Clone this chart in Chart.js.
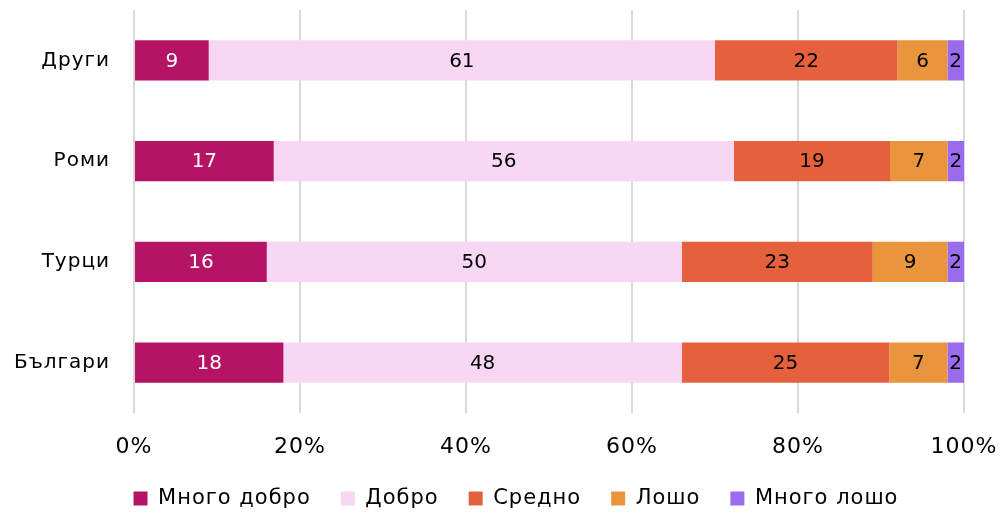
<!DOCTYPE html>
<html>
<head>
<meta charset="utf-8">
<script src="https://cdn.jsdelivr.net/npm/chart.js@4"></script>
<style>
  html, body { margin: 0; padding: 0; background: #fff; overflow: hidden; }
  #wrap { width: 1005px; height: 514px; }
</style>
</head>
<body>
<div id="wrap"><canvas id="chart"></canvas></div>
<script>
const categories = ["Други", "Роми", "Турци", "Българи"];
const seriesNames = ["Много добро", "Добро", "Средно", "Лошо", "Много лошо"];
const veryGood = [9, 17, 16, 18];
const good = [61, 56, 50, 48];
const average = [22, 19, 23, 25];
const bad = [6, 7, 9, 7];
const veryBad = [2, 2, 2, 2];
const tickValues = [0, 20, 40, 60, 80, 100];

const colors = ['#b41463', '#f7d7f4', '#e5603d', '#e9953d', '#9b6bee'];
const labelColors = ['#ffffff', '#000000', '#000000', '#000000', '#000000'];
const FONT = "'DejaVu Sans', sans-serif";

const raw = [veryGood, good, average, bad, veryBad];
// 100% stacked: normalise each row by its total
const totals = categories.map((c, i) => raw.reduce((s, arr) => s + arr[i], 0));
const datasets = raw.map((arr, k) => ({
    label: seriesNames[k],
    data: arr.map((v, i) => v / totals[i] * 100),
    rawValues: arr,
    backgroundColor: colors[k],
    barPercentage: 0.4,
    categoryPercentage: 1
}));

// wider lettering, closer to the original geometric font
const spacing = {
    id: 'spacing',
    beforeUpdate(chart) { chart.ctx.letterSpacing = '1px'; },
    beforeDraw(chart) { chart.ctx.letterSpacing = '1px'; }
};

// legend sits a bit right of the canvas centre in the original
const legendShift = {
    id: 'legendShift',
    afterLayout(chart) {
        chart.legend.left += 34;
        chart.legend.right += 34;
    }
};

// draw raw values in the middle of each segment
const valueLabels = {
    id: 'valueLabels',
    afterDatasetsDraw(chart) {
        const ctx = chart.ctx;
        ctx.save();
        ctx.letterSpacing = '0px';
        ctx.font = "20px " + FONT;
        ctx.textAlign = 'center';
        ctx.textBaseline = 'middle';
        chart.data.datasets.forEach((ds, k) => {
            const meta = chart.getDatasetMeta(k);
            meta.data.forEach((bar, i) => {
                ctx.fillStyle = labelColors[k];
                ctx.fillText(String(ds.rawValues[i]), (bar.x + bar.base) / 2, bar.y + 1);
            });
        });
        ctx.restore();
    }
};

new Chart(document.getElementById('chart'), {
    type: 'bar',
    data: { labels: categories, datasets: datasets },
    plugins: [spacing, legendShift, valueLabels],
    options: {
        indexAxis: 'y',
        responsive: true,
        maintainAspectRatio: false,
        animation: false,
        layout: { padding: { top: 10, right: 41, left: 0, bottom: -5 } },
        scales: {
            x: {
                stacked: true,
                min: 0,
                max: 100,
                afterBuildTicks: s => { s.ticks = tickValues.map(v => ({ value: v })); },
                border: { display: false },
                grid: { color: '#d9d9d9', lineWidth: 2, drawTicks: true, tickLength: 21, tickColor: 'rgba(0,0,0,0)' },
                ticks: {
                    padding: 0,
                    color: '#000',
                    font: { family: FONT, size: 22 },
                    callback: v => v + '%'
                },
                afterFit: s => { s.height = 45; }
            },
            y: {
                stacked: true,
                border: { display: false },
                grid: { display: true, drawOnChartArea: false, drawTicks: true, tickLength: 24, tickColor: 'rgba(0,0,0,0)' },
                ticks: {
                    padding: 0,
                    color: '#000',
                    font: { family: FONT, size: 20, lineHeight: 1 }
                },
                afterFit: s => { s.width = 134; }
            }
        },
        plugins: {
            legend: {
                position: 'bottom',
                labels: {
                    color: '#000',
                    font: { family: FONT, size: 21 },
                    boxWidth: 14,
                    boxHeight: 14,
                    padding: 30
                }
            },
            tooltip: { enabled: false }
        }
    }
});
</script>
</body>
</html>
